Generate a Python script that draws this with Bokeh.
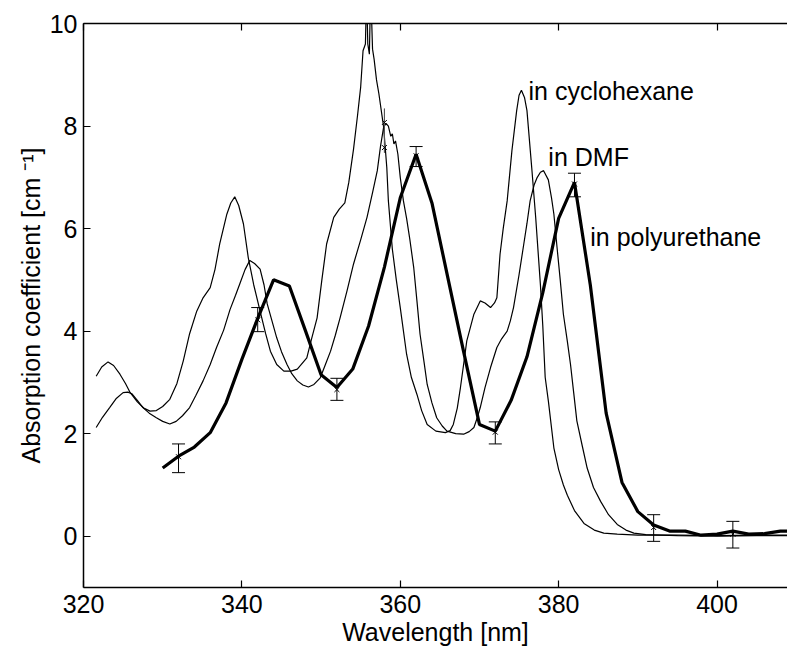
from bokeh.plotting import figure
from bokeh.models import (ColumnDataSource, Whisker, TeeHead, Label, LinearAxis,
                          FixedTicker, Range1d)
from bokeh.embed import file_html
from bokeh.resources import INLINE

FONT = "Liberation Sans"

# ---------------- data ----------------
x_ticks = [320, 340, 360, 380, 400]
y_ticks = [0, 2, 4, 6, 8, 10]

wl_cyc = [321.6, 322.3, 323.1, 323.8, 324.6, 325.3, 325.9, 326.8, 327.6, 328.4, 329.2,
          330.0, 330.9, 331.8, 332.6, 333.4, 334.3, 335.1, 336.0, 336.6, 337.2, 338.1,
          338.6, 339.1, 339.6, 340.2, 340.8, 341.5, 342.3, 343.0, 343.6, 344.4, 345.3,
          346.2, 347.0, 348.2, 348.8, 349.5, 350.1, 350.7, 351.6, 352.3, 353.0, 353.5,
          354.1, 354.6, 355.0, 355.3, 355.6, 355.7, 355.8, 355.9, 356.1, 356.2, 356.35,
          356.5, 356.7, 357.0, 357.3, 357.9, 358.3, 358.5, 359.0, 359.5, 360.0, 360.8,
          361.4, 362.1, 362.7, 363.4, 364.5, 365.7, 366.3, 366.7, 367.2, 367.6, 368.0,
          368.4, 369.3, 370.1, 370.7, 371.4, 371.9, 372.2, 372.6, 373.0, 373.5, 374.1,
          374.7, 375.0, 375.3, 375.7, 376.0, 376.6, 377.1, 377.7, 378.0, 378.3, 378.7,
          379.4, 380.0, 380.6, 381.1, 382.0, 383.2, 384.5, 385.7, 387.4, 390.0, 395.0,
          400.0, 405.0, 410.0]
abs_cyc = [3.12, 3.30, 3.40, 3.33, 3.16, 2.98, 2.80, 2.62, 2.50, 2.44, 2.45,
           2.53, 2.67, 2.98, 3.42, 3.95, 4.39, 4.65, 4.85, 5.20, 5.70, 6.28,
           6.50, 6.62, 6.45, 6.09, 5.44, 4.90, 4.39, 3.95, 3.61, 3.35, 3.22,
           3.22, 3.26, 3.48, 3.85, 4.26, 5.00, 5.70, 6.22, 6.38, 6.50, 6.90,
           7.55, 8.20, 8.76, 9.47, 9.60, 10.3, 10.3, 9.60, 9.40, 10.2, 10.25,
           9.50, 9.30, 8.90, 8.63, 7.98, 7.19, 6.54, 5.60, 5.00, 4.46, 3.55,
           3.10, 2.77, 2.45, 2.18, 2.05, 2.02, 2.06, 2.18, 2.50, 2.90, 3.35,
           3.81, 4.33, 4.59, 4.55, 4.46, 4.55, 4.65, 5.50, 6.00, 6.54, 7.52,
           8.30, 8.60, 8.70, 8.55, 8.30, 7.19, 6.22, 4.90, 4.10, 3.10, 2.64,
           1.72, 1.30, 1.00, 0.80, 0.50, 0.25, 0.12, 0.06, 0.04, 0.02, 0.02,
           0.01, 0.02, 0.02]

wl_dmf = [321.6, 322.4, 323.3, 324.1, 325.0, 325.6, 326.1, 326.8, 327.5, 328.3, 329.2,
          330.0, 330.9, 331.7, 332.5, 333.4, 334.2, 335.1, 336.0, 336.8, 337.7, 338.5,
          339.2, 339.8, 340.4, 341.0, 341.6, 342.3, 342.8, 343.2, 343.8, 344.4, 345.0,
          345.7, 346.3, 347.0, 347.7, 348.4, 349.1, 349.9, 350.5, 351.2, 351.8, 352.4,
          353.3, 354.1, 355.0, 355.8, 356.5, 357.1, 357.5, 357.9, 358.2, 358.5, 358.8,
          359.0, 359.2, 359.4, 359.7, 360.0, 360.4, 360.8, 361.2, 361.7, 362.1, 362.5,
          363.0, 363.4, 364.0, 364.6, 365.3, 365.9, 367.0, 368.0, 368.7, 369.3, 369.7,
          370.1, 370.7, 371.4, 372.2, 372.8, 373.5, 373.9, 374.3, 375.0, 375.6, 376.0,
          376.4, 376.9, 377.3, 377.7, 378.1, 378.7, 379.1, 379.4, 379.8, 380.2, 380.6,
          381.1, 381.5, 381.9, 382.3, 383.0, 383.6, 384.4, 385.3, 386.3, 387.4, 388.5,
          389.5, 391.0, 395.0, 400.0, 405.0, 410.0]
abs_dmf = [2.12, 2.32, 2.51, 2.68, 2.80, 2.81, 2.78, 2.65, 2.51, 2.40, 2.31,
           2.24, 2.19, 2.24, 2.35, 2.51, 2.75, 3.03, 3.35, 3.68, 4.02, 4.42,
           4.70, 4.95, 5.20, 5.38, 5.32, 5.21, 4.90, 4.53, 4.20, 3.87, 3.60,
           3.35, 3.17, 3.03, 2.95, 2.91, 2.96, 3.09, 3.33, 3.61, 3.92, 4.26,
           4.80, 5.31, 5.78, 6.22, 6.70, 7.13, 7.60, 7.98, 8.05, 8.00, 7.80,
           7.85, 7.65, 7.71, 7.45, 7.00, 6.54, 6.20, 5.80, 5.24, 4.60, 3.94,
           3.40, 2.96, 2.60, 2.31, 2.15, 2.05, 2.00, 1.99, 2.04, 2.12, 2.30,
           2.51, 2.90, 3.29, 3.68, 3.85, 4.00, 4.20, 4.46, 5.10, 5.70, 6.10,
           6.54, 6.85, 7.00, 7.10, 7.13, 6.95, 6.60, 6.28, 5.63, 5.00, 4.33,
           3.80, 3.35, 2.80, 2.25, 1.75, 1.33, 0.95, 0.68, 0.42, 0.23, 0.12,
           0.06, 0.03, 0.01, 0.00, 0.01, 0.01]

wl_pu = [330, 332, 334, 336, 338, 340, 342, 344, 346, 348, 350, 352, 354, 356, 358,
         360, 362, 364, 366, 368, 370, 372, 374, 376, 378, 380, 382, 384, 386, 388,
         390, 392, 394, 396, 398, 400, 402, 404, 406, 408, 410]
abs_pu = [1.33, 1.56, 1.74, 2.02, 2.60, 3.45, 4.25, 5.00, 4.88, 4.02, 3.15, 2.90, 3.26,
          4.10, 5.25, 6.60, 7.45, 6.50, 5.05, 3.60, 2.18, 2.05, 2.65, 3.50, 4.75, 6.20,
          6.90, 4.90, 2.40, 1.05, 0.48, 0.22, 0.10, 0.10, 0.02, 0.04, 0.10, 0.04, 0.05,
          0.10, 0.10]

err_wl = [332, 342, 352, 362, 372, 382, 392, 402]
err_mid = [1.55, 4.22, 2.86, 7.42, 2.03, 6.87, 0.17, 0.04]
err_lo = [1.24, 3.99, 2.65, 7.21, 1.80, 6.62, -0.10, -0.23]
err_hi = [1.80, 4.46, 3.08, 7.60, 2.23, 7.08, 0.42, 0.29]

sol_wl = [358, 358]
sol_mid = [8.07, 7.58]
sol_lo = [7.48, 7.48]
sol_hi = [8.34, 8.34]

curve_names = ["in cyclohexane", "in DMF", "in polyurethane"]
name_x = [376.2, 378.7, 384.0]
name_y = [8.69, 7.40, 5.84]

x_title = "Wavelength [nm]"
y_title = "Absorption coefficient [cm \u207b\u00b9]"

# ---------------- figure ----------------
p = figure(width=787, height=654, x_range=Range1d(320, 408.9), y_range=Range1d(-1, 10),
           output_backend="svg", toolbar_location=None,
           min_border_left=83, min_border_right=0, min_border_top=23, min_border_bottom=67)
p.outline_line_color = None
p.grid.visible = False
p.background_fill_color = "white"
p.border_fill_color = "white"

for ax in (p.xaxis[0], p.yaxis[0]):
    ax.major_tick_in = 7
    ax.major_tick_out = 0
    ax.minor_tick_in = 0
    ax.minor_tick_out = 0
    ax.axis_line_width = 1.5
    ax.major_tick_line_width = 1.2
    ax.axis_line_color = "black"
    ax.major_tick_line_color = "black"
    ax.major_label_text_font = FONT
    ax.major_label_text_font_size = "25px"
    ax.major_label_text_color = "black"
    ax.axis_label_text_font = FONT
    ax.axis_label_text_font_size = "25px"
    ax.axis_label_text_font_style = "normal"
    ax.axis_label_text_color = "black"

p.xaxis.ticker = FixedTicker(ticks=x_ticks)
p.yaxis.ticker = FixedTicker(ticks=y_ticks)
p.xaxis.major_label_standoff = 7
p.yaxis.major_label_standoff = 6
p.xaxis.axis_label = x_title
p.yaxis.axis_label = y_title
p.xaxis.axis_label_standoff = 2
p.yaxis.axis_label_standoff = 2

top = LinearAxis(ticker=FixedTicker(ticks=x_ticks), major_tick_in=7, major_tick_out=0,
                 minor_tick_in=0, minor_tick_out=0, axis_line_width=1.5,
                 major_tick_line_width=1.2, major_label_text_font_size="1px",
                 major_label_text_color=None, major_label_standoff=0)
p.add_layout(top, "above")

# spectra
p.line(wl_cyc, abs_cyc, line_color="black", line_width=1.2)
p.line(wl_dmf, abs_dmf, line_color="black", line_width=1.2)
p.line(wl_pu, abs_pu, line_color="black", line_width=3.2)

# error bars
err_src = ColumnDataSource(dict(x=err_wl, mid=err_mid, lo=err_lo, hi=err_hi))
p.add_layout(Whisker(source=err_src, base="x", upper="hi", lower="lo",
                     line_color="black", line_width=1,
                     upper_head=TeeHead(size=13, line_width=1, line_color="black"),
                     lower_head=TeeHead(size=13, line_width=1, line_color="black"),
                     level="glyph"))
p.scatter("x", "mid", source=err_src, marker="x", size=7, line_color="black", line_width=1)

p.segment(sol_wl, sol_lo, sol_wl, sol_hi, line_color="#555555", line_width=1)
p.scatter(sol_wl, sol_mid, marker="x", size=7, line_color="black", line_width=1)

for name, nx, ny in zip(curve_names, name_x, name_y):
    p.add_layout(Label(x=nx, y=ny, text=name, text_font=FONT, text_font_size="25px",
                       text_color="black", text_baseline="alphabetic", text_align="left"))

open("out.html", "w").write(file_html(p, INLINE))
